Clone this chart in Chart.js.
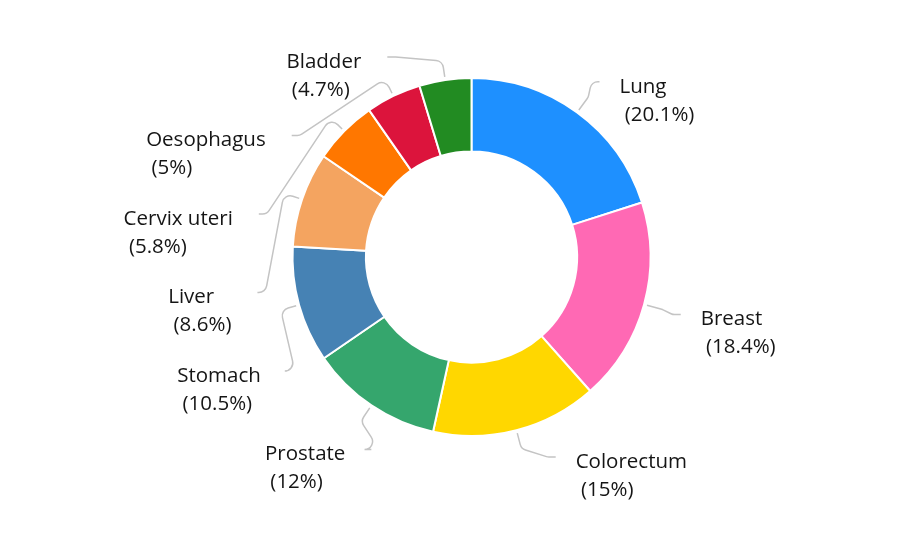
<!DOCTYPE html>
<html lang="en">
<head>
    <meta charset="UTF-8">
    <title>Cancer share</title>
    <script src="https://cdn.jsdelivr.net/npm/chart.js"></script>
    <style>
        html, body { margin: 0; padding: 0; background: #fff; }
        #wrap { width: 919px; height: 543px; }
    </style>
</head>
<body>
    <div id="wrap"><canvas id="cancerChart" width="919" height="543"></canvas></div>

    <script>
        // data
        const sites = ['Lung', 'Breast', 'Colorectum', 'Prostate', 'Stomach', 'Liver', 'Cervix uteri', 'Oesophagus', 'Bladder'];
        const shares = [20.1, 18.4, 15, 12, 10.5, 8.6, 5.8, 5, 4.7];
        const colours = ['#1E90FF', '#FF69B4', '#FFD700', '#35A66D', '#4682B4', '#F4A460', '#FF7700', '#DC143C', '#228B22'];

        const FONT = '20.5px "Open Sans", "Noto Sans", sans-serif';

        // labels with curved leader lines, pushed apart on each side
        const leaderLabels = {
            id: 'leaderLabels',
            afterDatasetsDraw(chart) {
                const ctx = chart.ctx;
                const arcs = chart.getDatasetMeta(0).data;
                if (!arcs.length) return;
                const cx = arcs[0].x, cy = arcs[0].y, r = arcs[0].outerRadius;
                const rEnd = r + 38, limit = r + 21, step = 78.5;

                const items = arcs.map((a, i) => {
                    const mid = (a.startAngle + a.endAngle) / 2;
                    return { i, mid, right: Math.cos(mid) >= 0, y: cy + rEnd * Math.sin(mid) };
                });

                [true, false].forEach(side => {
                    const list = items.filter(it => it.right === side).sort((a, b) => a.y - b.y);
                    let prev = -Infinity;
                    list.forEach(it => {
                        it.y = Math.max(it.y, prev + step, cy - limit);
                        prev = it.y;
                    });
                    let next = Infinity;
                    for (let k = list.length - 1; k >= 0; k--) {
                        list[k].y = Math.min(list[k].y, next - step, cy + limit);
                        next = list[k].y;
                    }
                });

                ctx.save();
                ctx.font = FONT;
                items.forEach(it => {
                    const dir = it.right ? 1 : -1;
                    const dy = it.y - cy;
                    const ex = cx + dir * Math.sqrt(Math.max(rEnd * rEnd - dy * dy, 0));
                    const ey = it.y;
                    const p0 = [cx + (r + 3) * Math.cos(it.mid), cy + (r + 3) * Math.sin(it.mid)];
                    const p1 = [cx + (r + 19) * Math.cos(it.mid), cy + (r + 19) * Math.sin(it.mid)];
                    const h = [ex - dir * 8, ey];

                    ctx.beginPath();
                    ctx.strokeStyle = '#c4c4c4';
                    ctx.lineWidth = 1.5;
                    ctx.moveTo(p0[0], p0[1]);
                    ctx.arcTo(p1[0], p1[1], h[0], h[1], 8);
                    ctx.arcTo(h[0], h[1], ex, ey, 8);
                    ctx.lineTo(ex, ey);
                    ctx.stroke();

                    const name = sites[it.i];
                    const pct = ' (' + shares[it.i] + '%)';
                    const w = Math.max(ctx.measureText(name).width, ctx.measureText(pct).width);
                    const tx = it.right ? ex + 20 : ex - 26 - w;
                    ctx.fillStyle = '#151515';
                    ctx.textAlign = 'left';
                    ctx.textBaseline = 'middle';
                    ctx.fillText(name, tx, ey + 5);
                    ctx.fillText(pct, tx, ey + 33);
                });
                ctx.restore();
            }
        };

        new Chart(document.getElementById('cancerChart'), {
            type: 'doughnut',
            data: {
                labels: sites,
                datasets: [{
                    data: shares,
                    backgroundColor: colours,
                    borderColor: '#ffffff',
                    borderWidth: 2
                }]
            },
            options: {
                responsive: false,
                animation: false,
                cutout: '59%',
                layout: {
                    padding: { top: 77, bottom: 106, left: 291, right: 267 }
                },
                plugins: {
                    legend: { display: false },
                    tooltip: { enabled: false }
                }
            },
            plugins: [leaderLabels]
        });
    </script>
</body>
</html>
